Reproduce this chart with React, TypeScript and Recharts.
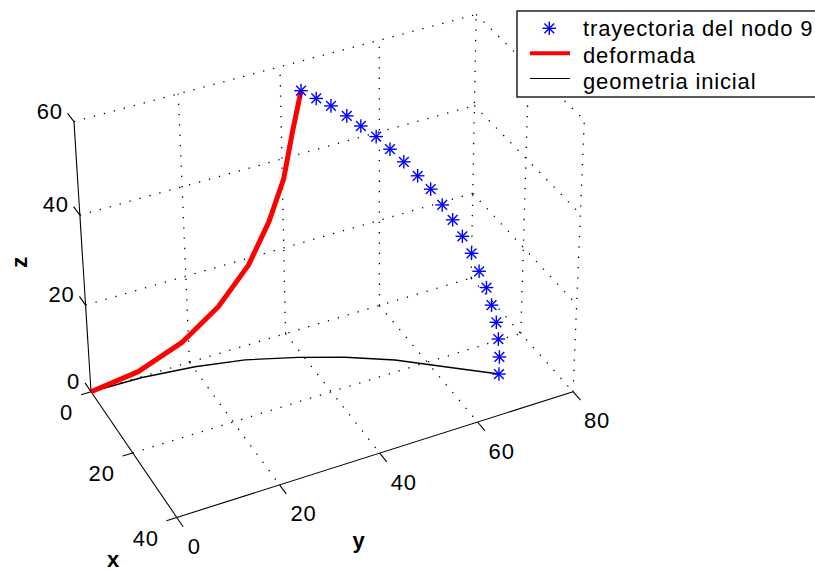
import React from 'react';
import { ScatterChart, Scatter, XAxis, YAxis, ReferenceLine } from 'recharts';

const W = 815;
const H = 571;

// initial geometry of the bar (lies in the z = 0 plane)
const INIT_X = [0, 0.3, 1.7, 4.0, 7.8, 11.7, 16.7, 22.7, 29.2];
const INIT_Y = [0, 10.2, 20.4, 29.7, 39.0, 46.9, 54.9, 62.3, 70.3];
const INIT_Z = [0, 0, 0, 0, 0, 0, 0, 0, 0];

// deformed shape
const DEF_X = [0, 0, 0, 0, 0, 0, 0, 0, 0];
const DEF_Y = [0, 9.6, 18.6, 26.3, 32.7, 37.1, 40.3, 42.2, 44.1];
const DEF_Z = [0, 1.4, 5.1, 10.9, 18.4, 26.9, 35.6, 45.1, 53.7];

// path followed by node 9 over the load steps
const NODE9_X = [0, 2.2, 4.4, 6.6, 8.7, 10.9, 12.9, 14.9, 16.9, 18.8, 20.5, 22.0, 23.4, 24.8, 26.0, 27.1, 27.9, 28.6, 29.0, 29.2, 29.2];
const NODE9_Y = [44.1, 46.1, 48.0, 50.1, 51.9, 53.9, 55.7, 57.5, 59.3, 61.0, 62.5, 63.9, 65.2, 66.4, 67.4, 68.4, 69.1, 69.8, 70.1, 70.3, 70.3];
const NODE9_Z = [53.7, 52.7, 51.8, 50.3, 48.8, 47.2, 45.1, 43.0, 40.6, 38.3, 35.4, 32.6, 29.4, 26.1, 22.5, 19.2, 15.5, 11.8, 8.1, 4.0, 0];

const X_TICKS = [0, 20, 40];
const Y_TICKS = [0, 20, 40, 60, 80];
const Z_TICKS = [0, 20, 40, 60];
const X_MAX = 40;
const Y_MAX = 80;
const Z_MAX = 60;

// perspective camera: homogeneous data -> pixel matrix
const CAMERA = [
  [1.91092, 5.03124, -0.353212, 91.0433],
  [2.45971, -1.25658, -4.61472, 391.761],
  [-0.00131987, 0.000593511, -0.0009243, 1],
];

const FONT = '"Liberation Sans", Arial, Helvetica, sans-serif';

type P3 = [number, number, number];

function project([x, y, z]: P3) {
  const [a, b, c] = CAMERA;
  const w = c[0] * x + c[1] * y + c[2] * z + c[3];
  return {
    px: (a[0] * x + a[1] * y + a[2] * z + a[3]) / w,
    py: (b[0] * x + b[1] * y + b[2] * z + b[3]) / w,
  };
}

const toPoints = (xs: number[], ys: number[], zs: number[]) =>
  xs.map((x, i) => project([x, ys[i], zs[i]]));

const initPts = toPoints(INIT_X, INIT_Y, INIT_Z);
const defPts = toPoints(DEF_X, DEF_Y, DEF_Z);
const nodePts = toPoints(NODE9_X, NODE9_Y, NODE9_Z);

// grid on the three back planes (x = 0, z = 0, y = Y_MAX)
const gridSegs: [P3, P3][] = [
  ...Y_TICKS.filter((y) => y > 0).map((y) => [[0, y, 0], [0, y, Z_MAX]] as [P3, P3]),
  ...Z_TICKS.map((z) => [[0, 0, z], [0, Y_MAX, z]] as [P3, P3]),
  ...X_TICKS.filter((x) => x > 0 && x < X_MAX).map((x) => [[x, 0, 0], [x, Y_MAX, 0]] as [P3, P3]),
  ...Y_TICKS.filter((y) => y > 0).map((y) => [[0, y, 0], [X_MAX, y, 0]] as [P3, P3]),
  ...X_TICKS.filter((x) => x > 0).map((x) => [[x, Y_MAX, 0], [x, Y_MAX, Z_MAX]] as [P3, P3]),
  ...Z_TICKS.filter((z) => z > 0).map((z) => [[0, Y_MAX, z], [X_MAX, Y_MAX, z]] as [P3, P3]),
];

const axisSegs: [P3, P3][] = [
  [[0, 0, 0], [X_MAX, 0, 0]],
  [[X_MAX, 0, 0], [X_MAX, Y_MAX, 0]],
  [[0, 0, 0], [0, 0, Z_MAX]],
  ...X_TICKS.map((x) => [[x, 0, 0], [x, -2, 0]] as [P3, P3]),
  ...Y_TICKS.map((y) => [[X_MAX, y, 0], [X_MAX + 2.8, y, 0]] as [P3, P3]),
  ...Z_TICKS.map((z) => [[0, 0, z], [-3, 0, z]] as [P3, P3]),
];

const seg = ([a, b]: [P3, P3]) => {
  const p = project(a);
  const q = project(b);
  return [{ x: p.px, y: p.py }, { x: q.px, y: q.py }];
};

function Asterisk({ cx, cy, r = 6.8 }: { cx?: number; cy?: number; r?: number }) {
  if (cx == null || cy == null) return <g />;
  const d = r * 0.72;
  return (
    <g stroke="#0000ff" strokeWidth={1.4}>
      <line x1={cx - r} y1={cy} x2={cx + r} y2={cy} />
      <line x1={cx} y1={cy - r} x2={cx} y2={cy + r} />
      <line x1={cx - d} y1={cy - d} x2={cx + d} y2={cy + d} />
      <line x1={cx - d} y1={cy + d} x2={cx + d} y2={cy - d} />
    </g>
  );
}

const labelStyle = { fontFamily: FONT, fontSize: 22, letterSpacing: 0.85, fill: '#000' };

function Labels() {
  return (
    <svg width={W} height={H} style={{ position: 'absolute', left: 0, top: 0, overflow: 'hidden' }}>
      {Z_TICKS.map((z) => {
        const p = project([0, 0, z]);
        return <text key={`z${z}`} x={p.px - 11} y={p.py - 3} textAnchor="end" {...labelStyle}>{z}</text>;
      })}
      {X_TICKS.map((x) => {
        const p = project([x, 0, 0]);
        return <text key={`x${x}`} x={p.px - 18} y={p.py + 28.5} textAnchor="end" {...labelStyle}>{x}</text>;
      })}
      {Y_TICKS.map((y) => {
        const p = project([X_MAX, y, 0]);
        return <text key={`y${y}`} x={p.px + 11} y={p.py + 36.5} {...labelStyle}>{y}</text>;
      })}
      <text x={113.5} y={567} textAnchor="middle" fontWeight="bold" {...labelStyle}>x</text>
      <text x={359} y={548} textAnchor="middle" fontWeight="bold" {...labelStyle}>y</text>
      <text x={26.7} y={261.7} textAnchor="middle" fontWeight="bold" transform="rotate(-90 26.7 261.7)" {...labelStyle}>z</text>

      <rect x={517} y={11} width={320} height={86} fill="#fff" stroke="#000" strokeWidth={1.3} />
      <Asterisk cx={549.3} cy={28.3} />
      <line x1={530} y1={53.3} x2={570} y2={53.3} stroke="#ff0000" strokeWidth={4} />
      <line x1={530} y1={78.5} x2={570} y2={78.5} stroke="#000" strokeWidth={1} />
      <text x={583} y={35.5} {...labelStyle}>trayectoria del nodo 9</text>
      <text x={583} y={62.5} {...labelStyle}>deformada</text>
      <text x={583} y={88.5} {...labelStyle}>geometria inicial</text>
    </svg>
  );
}

export default function App() {
  return (
    <div style={{ position: 'absolute', left: 0, top: 0, width: W, height: H, background: '#fff' }}>
      <ScatterChart width={W} height={H} margin={{ top: 0, right: 0, bottom: 0, left: 0 }}>
        <XAxis type="number" dataKey="px" domain={[0, W]} allowDataOverflow hide />
        <YAxis type="number" dataKey="py" domain={[0, H]} allowDataOverflow reversed hide />
        {gridSegs.map((s, i) => (
          <ReferenceLine key={`g${i}`} segment={seg(s)} stroke="#000" strokeWidth={1.3} strokeDasharray="1.3 9" ifOverflow="visible" />
        ))}
        {axisSegs.map((s, i) => (
          <ReferenceLine key={`a${i}`} segment={seg(s)} stroke="#000" strokeWidth={1.1} ifOverflow="visible" />
        ))}
        <Scatter
          name="geometria inicial"
          data={initPts}
          line={{ stroke: '#000', strokeWidth: 1.4 }}
          shape={() => <g />}
          isAnimationActive={false}
        />
        <Scatter
          name="deformada"
          data={defPts}
          line={{ stroke: '#ff0000', strokeWidth: 5, strokeLinejoin: 'round' }}
          shape={() => <g />}
          isAnimationActive={false}
        />
        <Scatter
          name="trayectoria del nodo 9"
          data={nodePts}
          shape={(p: { cx?: number; cy?: number }) => <Asterisk cx={p.cx} cy={p.cy} />}
          isAnimationActive={false}
        />
      </ScatterChart>
      <Labels />
    </div>
  );
}
